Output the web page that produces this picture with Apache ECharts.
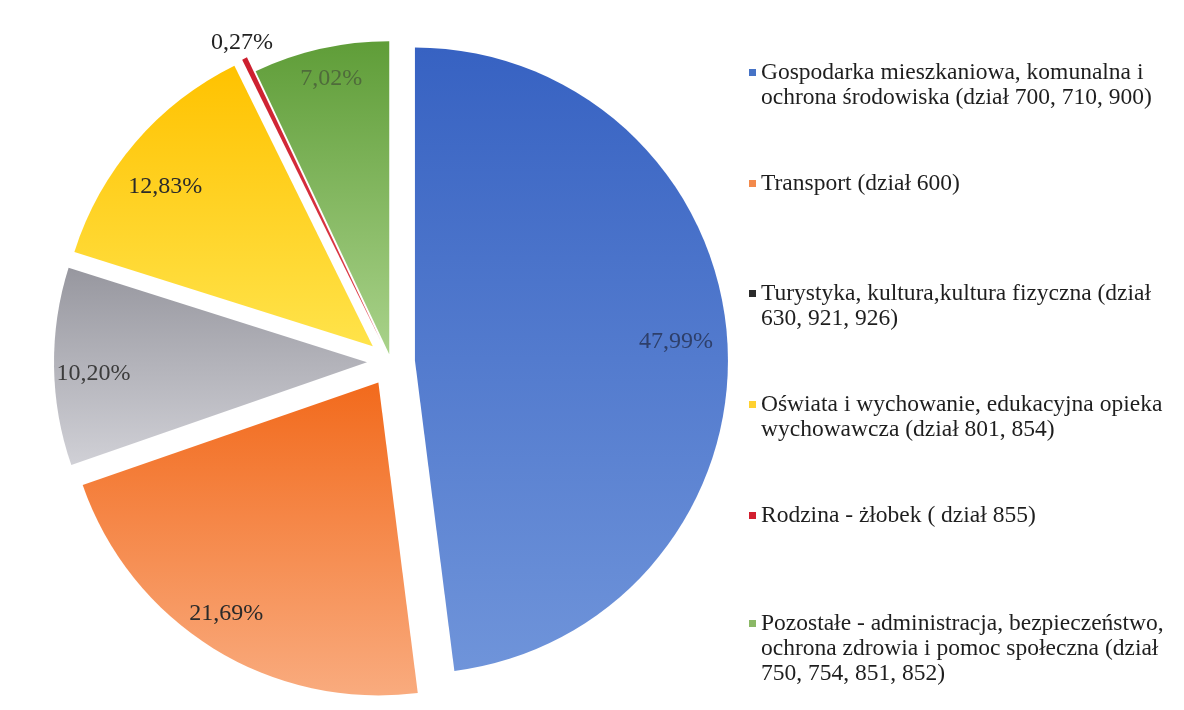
<!DOCTYPE html>
<html>
<head>
<meta charset="utf-8">
<script src="https://cdn.jsdelivr.net/npm/echarts@6/dist/echarts.min.js"></script>
<style>
  html, body { margin: 0; padding: 0; background: #fff; }
  #chart { width: 1184px; height: 710px; }
</style>
</head>
<body>
<div id="chart"></div>
<script>
// 数据
const categories = [
    'Gospodarka mieszkaniowa, komunalna i\nochrona środowiska (dział 700, 710, 900)',
    'Transport (dział 600)',
    'Turystyka, kultura,kultura fizyczna (dział\n630, 921, 926)',
    'Oświata i wychowanie, edukacyjna opieka\nwychowawcza (dział 801, 854)',
    'Rodzina - żłobek ( dział 855)',
    'Pozostałe - administracja, bezpieczeństwo,\nochrona zdrowia i pomoc społeczna (dział\n750, 754, 851, 852)'
];
const shares = [47.99, 21.69, 10.20, 12.83, 0.27, 7.02];

// 颜色 (上 -> 下 渐变)
const sliceColors = [
    ['#3762c2', '#6f94da'],
    ['#f26a1c', '#f9ab7e'],
    ['#97979f', '#d0d0d6'],
    ['#ffc200', '#ffe34a'],
    ['#cc1f2e', '#e0404c'],
    ['#5f9d38', '#a9d28a']
];
const legendColors = ['#4673c6', '#f38a4c', '#2b2b2b', '#ffd130', '#d21f2f', '#8bb866'];
const labelColors  = ['#2e3f6a', '#2a2a2a', '#3c3c3c', '#2a2a2a', '#222', '#4f6b3b'];
const labelNudge   = [[-8, -2], [-10, 2], [-4, 8], [-3, 16], [13, 6], [1, -13]];   // 标签微调
const legendTops   = [35, 171, 256, 367, 503, 561];

const FONT   = "'Liberation Serif', 'Times New Roman', serif";
const CENTER = [391, 362];
const R      = 313;
const LINE_H = 25;

/**
 *  生成饼图 series
 *  @param { Number }   offset      扇区偏移
 *  @param { Array  }   showIdx     显示的扇区
 *  @param { Boolean }  isLabel     是否为标签层
 */
function makePie(offset, showIdx, isLabel) {
    let data = shares.map((v, i) => {
        let show = showIdx.indexOf(i) >= 0;
        let item = { name: categories[i], value: v, selected: true };
        if (isLabel) {
            item.itemStyle = { color: 'rgba(0,0,0,0)' };
            item.label = { show: show, color: labelColors[i] };
            if (i === 4) {
                item.label.position = 'outside';
                item.labelLine = { show: false, length: 24, length2: 0 };
            }
        } else {
            item.itemStyle = {
                color: show ? new echarts.graphic.LinearGradient(0, 0, 0, 1, [
                    { offset: 0, color: sliceColors[i][0] },
                    { offset: 1, color: sliceColors[i][1] }
                ]) : 'rgba(0,0,0,0)'
            };
        }
        return item;
    });
    return {
        type: 'pie',
        center: CENTER,
        radius: isLabel ? [220, R] : [0, R],
        startAngle: 90,
        selectedMode: 'multiple',
        selectedOffset: offset,
        silent: true,
        avoidLabelOverlap: false,
        label: isLabel ? {
            show: true,
            position: 'inside',
            fontFamily: FONT,
            fontSize: 24,
            formatter: p => p.value.toFixed(2).replace('.', ',') + '%'
        } : { show: false },
        labelLine: { show: false },
        labelLayout: isLabel ? function (params) {
            let n = labelNudge[params.dataIndex];
            let res = { dx: n[0], dy: n[1] };
            if (params.dataIndex === 4) res.align = 'center';
            return res;
        } : null,
        data: data
    };
}

// 图例 (每项单独定位, 图标对齐第一行)
let legends = categories.map((name, i) => {
    let lines = name.split('\n').length;
    return {
        orient: 'vertical',
        left: 749,
        top: legendTops[i],
        padding: 0,
        itemWidth: 7,
        itemHeight: 7,
        icon: 'rect',
        selectedMode: false,
        formatter: n => '\n'.repeat(lines - 1) + n,
        textStyle: {
            fontFamily: FONT,
            fontSize: 23.5,
            lineHeight: LINE_H,
            color: '#1e1e1e'
        },
        data: [{ name: name, itemStyle: { color: legendColors[i] } }]
    };
});

let chart = echarts.init(document.getElementById('chart'));
chart.setOption({
    backgroundColor: '#ffffff',
    animation: false,
    legend: legends,
    series: [
        makePie(24, [0, 1, 2, 3, 4], false),
        makePie(8, [5], false),
        makePie(24, [0, 1, 2, 3, 4], true),
        makePie(8, [5], true)
    ]
});
</script>
</body>
</html>
